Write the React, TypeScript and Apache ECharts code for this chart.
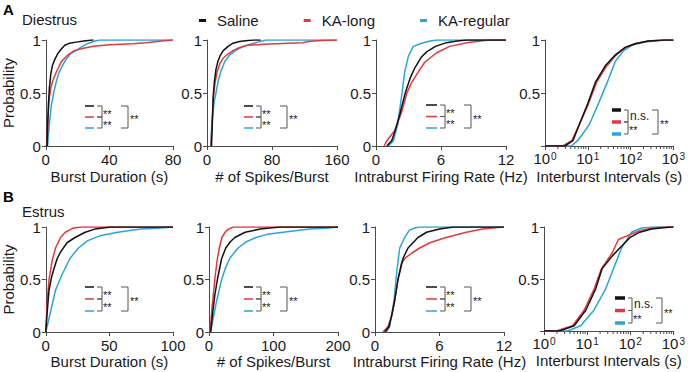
import React, { useEffect, useRef } from "react";
import * as echarts from "echarts";

// ---------- DATA (cumulative probability curves: [value, probability]) ----------
const seriesNames = ["Saline", "KA-long", "KA-regular"];

// Diestrus
const diBurstSaline = [[0, 0], [0.8, 0], [1.2, 0.2], [1.7, 0.4], [2.3, 0.55], [3.2, 0.68], [4.2, 0.76], [5.5, 0.81], [7.5, 0.87], [9.5, 0.91], [12, 0.95], [15, 0.97], [19, 0.98], [24, 0.99], [29, 1], [30, 1]];
const diBurstKALong = [[0, 0], [0.8, 0], [1.3, 0.25], [2.2, 0.45], [3.2, 0.55], [4.5, 0.62], [7, 0.71], [10, 0.8], [14, 0.86], [18, 0.9], [23, 0.92], [30, 0.94], [40, 0.955], [55, 0.965], [63, 0.975], [70, 0.985], [76, 0.995], [80, 1]];
const diBurstKAReg = [[0, 0], [1.2, 0], [2.2, 0.2], [3.5, 0.38], [5, 0.5], [6.5, 0.6], [8.5, 0.7], [12, 0.8], [15.5, 0.87], [19, 0.9], [23, 0.94], [27, 0.97], [31, 0.99], [34, 1], [80, 1]];

const diSpikesSaline = [[5.5, 0], [6.5, 0.2], [7.5, 0.45], [9, 0.6], [11, 0.72], [13.5, 0.8], [16, 0.85], [20, 0.9], [26, 0.94], [32, 0.97], [40, 0.985], [50, 0.995], [58, 1], [66, 1]];
const diSpikesKALong = [[5, 0], [6.5, 0.25], [8, 0.48], [10, 0.6], [12.5, 0.7], [16, 0.78], [20, 0.83], [26, 0.87], [32, 0.9], [40, 0.93], [50, 0.95], [70, 0.96], [100, 0.97], [118, 0.975], [125, 0.985], [140, 0.995], [160, 1]];
const diSpikesKAReg = [[4.5, 0], [5.5, 0.15], [7, 0.3], [9, 0.42], [11, 0.5], [14, 0.62], [17, 0.7], [22, 0.8], [28, 0.86], [35, 0.9], [45, 0.94], [55, 0.965], [63, 0.98], [70, 0.995], [73, 1], [160, 1]];

const diRateSaline = [[1.0, 0], [1.45, 0.05], [1.75, 0.14], [2.2, 0.3], [2.7, 0.5], [3.15, 0.64], [3.6, 0.74], [4.2, 0.84], [4.7, 0.89], [5.5, 0.94], [6.5, 0.975], [7.5, 0.99], [8.4, 1], [12, 1]];
const diRateKALong = [[0.75, 0], [1.0, 0.05], [1.3, 0.09], [1.75, 0.15], [2.3, 0.3], [2.85, 0.5], [3.3, 0.6], [3.9, 0.7], [4.5, 0.79], [5.6, 0.88], [6.8, 0.94], [8.4, 0.975], [10, 0.995], [10.5, 1], [12, 1]];
const diRateKAReg = [[1.15, 0], [1.6, 0.05], [2.0, 0.2], [2.4, 0.5], [2.65, 0.7], [3.0, 0.85], [3.45, 0.94], [4.2, 0.97], [5.0, 0.99], [5.6, 1], [12, 1]];

const diIntervalSaline = [[1, 0], [2.9, 0], [4.5, 0.05], [6.3, 0.2], [10, 0.4], [15, 0.6], [26, 0.76], [44, 0.86], [75, 0.93], [127, 0.965], [257, 0.99], [620, 1], [1000, 1]];
const diIntervalKALong = [[1, 0], [2.6, 0], [4.2, 0.05], [6.3, 0.2], [10.4, 0.4], [16, 0.6], [27, 0.75], [44, 0.85], [75, 0.93], [127, 0.965], [257, 0.99], [620, 1], [1000, 1]];
const diIntervalKAReg = [[1, 0], [4.1, 0], [5.8, 0.05], [10.8, 0.2], [17.7, 0.4], [28.5, 0.6], [44, 0.8], [69, 0.9], [107, 0.95], [215, 0.98], [620, 1], [1000, 1]];

// Estrus
const esBurstSaline = [[0, 0], [1.2, 0.2], [2.6, 0.4], [4.5, 0.52], [6.4, 0.6], [9, 0.7], [11.6, 0.76], [16.7, 0.85], [23, 0.9], [31, 0.95], [38.6, 0.98], [45, 0.99], [51, 1], [100, 1]];
const esBurstKALong = [[0, 0], [1.2, 0.3], [2.6, 0.5], [5, 0.68], [7.7, 0.8], [11.6, 0.9], [15.4, 0.95], [19, 0.975], [22, 0.99], [28, 1], [100, 1]];
const esBurstKAReg = [[0, 0], [2, 0.1], [3.9, 0.2], [7.7, 0.4], [12.9, 0.55], [19, 0.7], [25.7, 0.8], [33, 0.87], [43.7, 0.92], [56.6, 0.95], [74.6, 0.98], [90, 0.99], [100, 1]];

const esSpikesSaline = [[2.6, 0], [6, 0.2], [9, 0.35], [13, 0.5], [19.6, 0.7], [26, 0.8], [33, 0.86], [40, 0.9], [56, 0.95], [79, 0.98], [95, 0.99], [110, 1], [200, 1]];
const esSpikesKALong = [[1.5, 0], [5, 0.25], [9, 0.5], [12.5, 0.68], [16, 0.8], [20, 0.9], [25, 0.95], [30, 0.98], [38, 1], [200, 1]];
const esSpikesKAReg = [[2.6, 0], [7, 0.15], [12, 0.3], [19.6, 0.5], [25, 0.6], [32, 0.7], [45, 0.8], [58, 0.86], [73, 0.9], [90, 0.93], [115, 0.95], [156, 0.98], [185, 0.99], [200, 1]];

const esRateSaline = [[0.9, 0], [1.3, 0.05], [1.6, 0.18], [1.83, 0.3], [2.14, 0.5], [2.6, 0.7], [3.07, 0.8], [4.0, 0.9], [4.8, 0.95], [6.0, 0.98], [7.3, 1], [12, 1]];
const esRateKALong = [[0.74, 0], [1.2, 0.05], [1.55, 0.15], [1.83, 0.3], [2.14, 0.5], [2.45, 0.65], [2.76, 0.7], [3.4, 0.75], [4.15, 0.8], [5.1, 0.85], [6.6, 0.9], [8.5, 0.95], [10, 0.98], [11.9, 1]];
const esRateKAReg = [[1.05, 0], [1.36, 0.05], [1.77, 0.3], [2.05, 0.6], [2.3, 0.8], [2.76, 0.9], [3.2, 0.97], [3.7, 0.99], [4.15, 1], [12, 1]];

const esIntervalSaline = [[1, 0], [2.3, 0], [5, 0.05], [9.3, 0.2], [15.6, 0.4], [22.3, 0.6], [38, 0.72], [58, 0.8], [99, 0.9], [167, 0.95], [310, 0.98], [880, 1], [1000, 1]];
const esIntervalKALong = [[1, 0], [1.9, 0], [4.6, 0.05], [8.5, 0.2], [14.4, 0.4], [21.5, 0.6], [38, 0.75], [53, 0.88], [90, 0.92], [183, 0.97], [400, 0.995], [740, 1], [1000, 1]];
const esIntervalKAReg = [[1, 0], [3.5, 0], [7.1, 0.05], [14.4, 0.2], [26.5, 0.4], [41, 0.6], [63, 0.8], [107, 0.95], [183, 0.99], [370, 1], [1000, 1]];

// Axis tick labels / ranges
const linearTicks = [
  { max: 80, interval: 40 },
  { max: 160, interval: 80 },
  { max: 12, interval: 6 },
  { max: 100, interval: 50 },
  { max: 200, interval: 100 },
  { max: 12, interval: 6 },
];
const xAxisNames = ["Burst Duration (s)", "# of Spikes/Burst", "Intraburst Firing Rate (Hz)", "Interburst Intervals (s)"];
const logMinorTicks = [2, 3, 4, 5, 6, 7, 8, 9, 20, 30, 40, 50, 60, 70, 80, 90, 200, 300, 400, 500, 600, 700, 800, 900];
const panelData = [
  [diBurstSaline, diBurstKALong, diBurstKAReg],
  [diSpikesSaline, diSpikesKALong, diSpikesKAReg],
  [diRateSaline, diRateKALong, diRateKAReg],
  [diIntervalSaline, diIntervalKALong, diIntervalKAReg],
  [esBurstSaline, esBurstKALong, esBurstKAReg],
  [esSpikesSaline, esSpikesKALong, esSpikesKAReg],
  [esRateSaline, esRateKALong, esRateKAReg],
  [esIntervalSaline, esIntervalKALong, esIntervalKAReg],
];

// ---------- STYLE / LAYOUT ----------
const FONT = 'Arial, "Liberation Sans", Helvetica, sans-serif';
const COLORS = ["#111111", "#e5383e", "#2aa5dc"];
const AXIS = "#4a4a4a";
const TEXT = "#1a1a1a";
const FS = 15;

const grids = [
  { left: 43, top: 40, width: 130, height: 106 },
  { left: 207, top: 40, width: 130, height: 106 },
  { left: 376, top: 40, width: 130, height: 106 },
  { left: 545, top: 40, width: 131, height: 106 },
  { left: 43, top: 227, width: 130, height: 105 },
  { left: 209, top: 227, width: 129, height: 105 },
  { left: 375, top: 227, width: 129, height: 105 },
  { left: 544, top: 227, width: 132, height: 104 },
];

const marks = [
  { x: 85, y: 106, dy: 11, dw: 9, thick: false, ns: false },
  { x: 244, y: 106, dy: 11, dw: 9, thick: false, ns: false },
  { x: 426, y: 105, dy: 11.5, dw: 11, thick: false, ns: false },
  { x: 612, y: 110, dy: 12, dw: 9, thick: true, ns: true },
  { x: 85, y: 287, dy: 12, dw: 9, thick: false, ns: false },
  { x: 244, y: 287, dy: 12, dw: 9, thick: false, ns: false },
  { x: 426, y: 287, dy: 12, dw: 11, thick: false, ns: false },
  { x: 615, y: 298, dy: 12.5, dw: 10, thick: true, ns: true },
];

function sigGraphics(m: any) {
  const els: any[] = [];
  const { x, y, dy, dw, thick, ns } = m;
  [0, 1, 2].forEach((k) => {
    const yy = y + k * dy;
    if (thick) {
      els.push({ type: "rect", shape: { x, y: yy - 1.75, width: dw, height: 3.5 }, style: { fill: COLORS[k] } });
    } else {
      els.push({ type: "line", shape: { x1: x, y1: yy, x2: x + dw, y2: yy }, style: { stroke: COLORS[k], lineWidth: 1.5 } });
    }
  });
  const a = x + dw + 3;
  const b = x + dw + (ns ? 7 : 8);
  const ln = { stroke: "#555", lineWidth: 1, fill: null };
  els.push({ type: "polyline", shape: { points: [[a, y], [b, y], [b, y + dy], [a, y + dy]] }, style: ln });
  els.push({ type: "polyline", shape: { points: [[a, y + dy], [b, y + dy], [b, y + 2 * dy], [a, y + 2 * dy]] }, style: ln });
  const ts = { fontSize: 11, lineHeight: 9, fontFamily: FONT, fill: "#222", verticalAlign: "middle", align: "left" };
  if (ns) {
    els.push({ type: "text", x: Math.round(b + 2), y: Math.round(y + dy / 2), style: { ...ts, fontSize: 12, lineHeight: 10, text: "n.s." } });
  } else {
    els.push({ type: "text", x: Math.round(b + 1), y: Math.round(y + dy / 2 + 2), style: { ...ts, text: "**" } });
  }
  els.push({ type: "text", x: Math.round(b + 1), y: Math.round(y + 1.5 * dy + 2), style: { ...ts, text: "**" } });
  const oa = x + dw + (ns ? 31 : 27);
  const ob = x + dw + (ns ? 37 : 34);
  els.push({ type: "polyline", shape: { points: [[oa, y], [ob, y], [ob, y + 2 * dy], [oa, y + 2 * dy]] }, style: ln });
  els.push({ type: "text", x: Math.round(ob + 2), y: Math.round(y + dy + 2), style: { ...ts, text: "**" } });
  return els;
}

function buildOption() {
  const xAxis: any[] = [];
  const yAxis: any[] = [];
  const series: any[] = [];
  const labelStyle = { fontSize: FS, fontFamily: FONT, color: TEXT };
  grids.forEach((g, i) => {
    const isLog = i === 3 || i === 7;
    const col = i % 4;
    const top = i < 4;
    const lin = isLog ? null : linearTicks[top ? col : col + 3];
    const base: any = {
      gridIndex: i,
      name: xAxisNames[col],
      nameLocation: "middle",
      nameGap: top ? 23 : 22,
      nameTextStyle: { fontSize: FS, fontFamily: FONT, color: TEXT },
      axisLine: { lineStyle: { color: AXIS, width: 1 } },
      axisTick: { length: 4, lineStyle: { color: AXIS } },
      splitLine: { show: false },
      axisLabel: { ...labelStyle, margin: 6 },
    };
    if (isLog) {
      Object.assign(base, {
        type: "log",
        logBase: 10,
        min: 1,
        max: 1000,
        axisLabel: {
          ...labelStyle,
          margin: 5,
          formatter: (v: number) => "10{s|" + Math.round(Math.log10(v)) + "}",
          rich: { s: { fontSize: 10, fontFamily: FONT, color: TEXT, verticalAlign: "top", padding: [0, 0, 0, 1] } },
        },
      });
    } else {
      Object.assign(base, { type: "value", min: 0, max: lin!.max, interval: lin!.interval });
    }
    xAxis.push(base);
    yAxis.push({
      gridIndex: i,
      type: "value",
      min: 0,
      max: 1,
      interval: 0.5,
      name: col === 0 ? "Probability" : "",
      nameLocation: "middle",
      nameGap: 23,
      nameTextStyle: { fontSize: FS, fontFamily: FONT, color: TEXT },
      axisLine: { show: true, lineStyle: { color: AXIS, width: 1 } },
      axisTick: { show: true, length: 4, lineStyle: { color: AXIS } },
      splitLine: { show: false },
      axisLabel: {
        ...labelStyle,
        margin: 5,
        formatter: (v: number) => (isLog && v === 0 ? "" : String(v)),
      },
    });
    // draw blue, red, then black on top
    [2, 1, 0].forEach((k) => {
      series.push({
        type: "line",
        name: seriesNames[k],
        xAxisIndex: i,
        yAxisIndex: i,
        data: panelData[i][k],
        showSymbol: false,
        symbol: "none",
        lineStyle: { color: COLORS[k], width: 1.5 },
        itemStyle: { color: COLORS[k] },
        z: 3 + (2 - k),
      });
    });
    if (isLog) {
      series.push({
        type: "custom",
        xAxisIndex: i,
        yAxisIndex: i,
        silent: true,
        clip: false,
        data: logMinorTicks.map((v) => [v, 0]),
        renderItem: (_p: any, api: any) => {
          const p = api.coord([api.value(0), 0]);
          return {
            type: "line",
            shape: { x1: p[0], y1: p[1], x2: p[0], y2: p[1] + 3 },
            style: { stroke: AXIS, lineWidth: 1 },
          };
        },
      });
    }
  });

  const graphic: any[] = [
    { type: "text", x: 3, y: 2, style: { text: "A", fontSize: 15, fontWeight: "bold", fontFamily: FONT, fill: "#000" } },
    { type: "text", x: 22, y: 12, style: { text: "Diestrus", fontSize: 15, fontFamily: FONT, fill: TEXT } },
    { type: "text", x: 3, y: 189, style: { text: "B", fontSize: 15, fontWeight: "bold", fontFamily: FONT, fill: "#000" } },
    { type: "text", x: 22, y: 204, style: { text: "Estrus", fontSize: 15, fontFamily: FONT, fill: TEXT } },
  ];
  marks.forEach((m) => graphic.push(...sigGraphics(m)));

  return {
    animation: false,
    backgroundColor: "#ffffff",
    textStyle: { fontFamily: FONT },
    legend: {
      data: seriesNames,
      left: 194,
      top: 8,
      icon: "rect",
      itemWidth: 7,
      itemHeight: 3,
      itemGap: 45,
      selectedMode: false,
      textStyle: { fontSize: FS, fontFamily: FONT, color: TEXT, padding: [0, 0, 0, 6] },
    },
    grid: grids.map((g) => ({ ...g })),
    xAxis,
    yAxis,
    series,
    graphic,
  };
}

export default function App() {
  const ref = useRef<HTMLDivElement>(null);
  useEffect(() => {
    document.body.style.margin = "0";
    const chart = echarts.init(ref.current!, null, { renderer: "svg" });
    chart.setOption(buildOption() as any);
    return () => chart.dispose();
  }, []);
  return <div ref={ref} style={{ width: 688, height: 372 }} />;
}
